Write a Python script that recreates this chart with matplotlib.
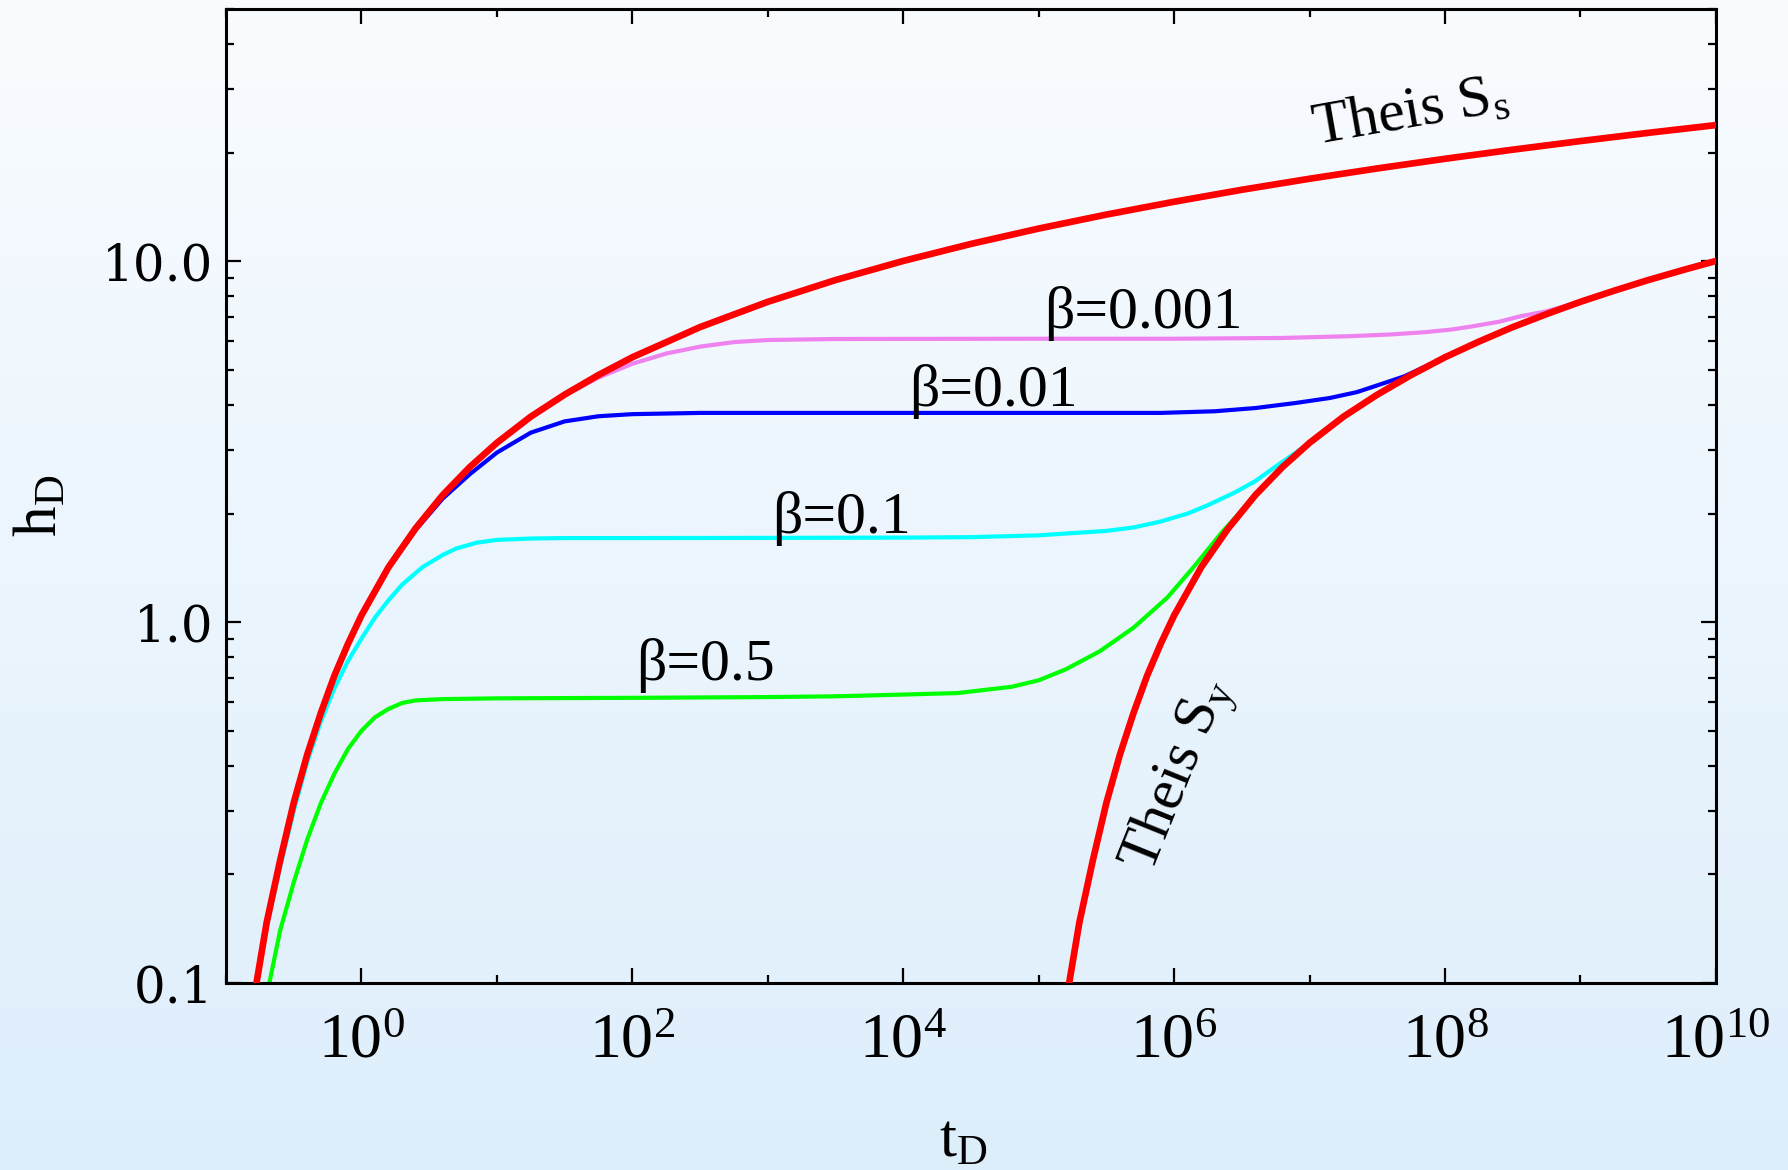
import numpy as np
import matplotlib.pyplot as plt
from matplotlib.colors import LinearSegmentedColormap
from matplotlib.ticker import FixedLocator, FixedFormatter, LogLocator, NullFormatter

plt.rcParams['font.family'] = ['Liberation Serif', 'DejaVu Serif']
plt.rcParams['mathtext.fontset'] = 'custom'
plt.rcParams['mathtext.rm'] = 'Liberation Serif'
plt.rcParams['mathtext.it'] = 'Liberation Serif:italic'

# values, x given as log10(tD)
theis_ss_logt = [-0.8, -0.7, -0.6, -0.5, -0.4, -0.3, -0.2, -0.1, 0.0, 0.2, 0.4, 0.6, 0.8,
                 1.0, 1.25, 1.5, 1.75, 2.0, 2.5, 3.0, 3.5, 4.0, 4.5, 5.0, 5.5, 6.0, 6.5,
                 7.0, 7.5, 8.0, 8.5, 9.0, 9.5, 10.0]
theis_ss_h = [0.088, 0.147, 0.219, 0.316, 0.43, 0.56, 0.71, 0.87, 1.044, 1.42, 1.82, 2.25, 2.69,
              3.14, 3.71, 4.27, 4.84, 5.42, 6.57, 7.72, 8.87, 10.02, 11.17, 12.32, 13.47, 14.62, 15.78,
              16.93, 18.08, 19.23, 20.38, 21.53, 22.69, 23.84]

theis_sy_logt = [5.2, 5.3, 5.4, 5.5, 5.6, 5.7, 5.8, 5.9, 6.0, 6.2, 6.4, 6.6, 6.8,
                 7.0, 7.25, 7.5, 7.75, 8.0, 8.25, 8.5, 8.75, 9.0, 9.25, 9.5, 9.75, 10.0]
theis_sy_h = [0.088, 0.147, 0.219, 0.316, 0.43, 0.56, 0.71, 0.87, 1.044, 1.42, 1.82, 2.25, 2.69,
              3.14, 3.71, 4.27, 4.84, 5.42, 5.99, 6.57, 7.14, 7.72, 8.29, 8.87, 9.44, 10.02]

b0001_logt = [-0.8, -0.7, -0.6, -0.5, -0.4, -0.3, -0.2, -0.1, 0.0, 0.2, 0.4, 0.6, 0.8, 1.0, 1.25,
              1.5, 1.75, 2.0, 2.25, 2.5, 2.75, 3.0, 3.5, 5.0, 6.0, 6.8, 7.3, 7.6, 7.85, 8.05, 8.2,
              8.4, 8.55, 8.75, 9.0]
b0001_h = [0.088, 0.147, 0.219, 0.316, 0.43, 0.56, 0.71, 0.87, 1.044, 1.42, 1.82, 2.25, 2.69, 3.14, 3.7,
           4.25, 4.76, 5.2, 5.55, 5.8, 5.97, 6.05, 6.09, 6.1, 6.1, 6.13, 6.2, 6.27, 6.36, 6.47, 6.6,
           6.8, 7.03, 7.27, 7.72]

b001_logt = [-0.8, -0.7, -0.6, -0.5, -0.4, -0.3, -0.2, -0.1, 0.0, 0.2, 0.4, 0.6, 0.8, 1.0, 1.25,
             1.5, 1.75, 2.0, 2.5, 4.0, 5.0, 5.9, 6.3, 6.6, 6.9, 7.15, 7.35, 7.5, 7.7, 7.85, 8.0]
b001_h = [0.088, 0.147, 0.219, 0.316, 0.43, 0.56, 0.71, 0.87, 1.04, 1.41, 1.8, 2.2, 2.57, 2.95, 3.35,
          3.6, 3.72, 3.77, 3.8, 3.8, 3.8, 3.8, 3.84, 3.92, 4.05, 4.18, 4.34, 4.53, 4.8, 5.1, 5.4]

b01_logt = [-0.77, -0.7, -0.6, -0.5, -0.4, -0.3, -0.2, -0.1, 0.0, 0.1, 0.2, 0.3, 0.45, 0.6, 0.7,
            0.85, 1.0, 1.25, 1.5, 2.0, 3.0, 4.0, 4.5, 5.0, 5.2, 5.5, 5.7, 5.9, 6.1, 6.25, 6.45,
            6.6, 6.75, 6.92, 7.0]
b01_h = [0.1, 0.143, 0.21, 0.3, 0.41, 0.53, 0.655, 0.78, 0.9, 1.03, 1.15, 1.27, 1.42, 1.535, 1.6,
         1.66, 1.69, 1.705, 1.71, 1.71, 1.712, 1.715, 1.72, 1.74, 1.76, 1.79, 1.83, 1.9, 2.0, 2.11, 2.29,
         2.46, 2.7, 2.99, 3.14]

b05_logt = [-0.68, -0.6, -0.5, -0.4, -0.3, -0.2, -0.1, 0.0, 0.1, 0.2, 0.3, 0.4, 0.6, 1.0, 2.0,
            3.0, 3.5, 4.0, 4.4, 4.8, 5.0, 5.2, 5.45, 5.7, 5.95, 6.15, 6.35, 6.5, 6.6]
b05_h = [0.1, 0.14, 0.19, 0.25, 0.315, 0.38, 0.445, 0.5, 0.545, 0.575, 0.597, 0.607, 0.612, 0.615, 0.617,
         0.62, 0.623, 0.63, 0.636, 0.662, 0.69, 0.74, 0.83, 0.965, 1.17, 1.43, 1.77, 2.04, 2.25]

x_major = [1e0, 1e2, 1e4, 1e6, 1e8, 1e10]
x_major_labels = [r'$10^{0}$', r'$10^{2}$', r'$10^{4}$', r'$10^{6}$', r'$10^{8}$', r'$10^{10}$']
x_minor = [1e-1, 1e1, 1e3, 1e5, 1e7, 1e9]
y_major = [0.1, 1.0, 10.0]
y_major_labels = ['0.1', '1.0', '10.0']

fig = plt.figure(figsize=(17.88, 11.70), dpi=100)

bg = fig.add_axes([0, 0, 1, 1], zorder=-10)
grad = np.linspace(0, 1, 256).reshape(-1, 1)
cmap = LinearSegmentedColormap.from_list('bg', ['#f9fcff', '#ddeefb'])
bg.imshow(grad, aspect='auto', cmap=cmap, extent=[0, 1, 0, 1], origin='upper')
bg.axis('off')

ax = fig.add_axes([0.1264, 0.1598, 0.8333, 0.8325])
ax.patch.set_alpha(0)

def tt(logt):
    return 10.0 ** np.array(logt)

ax.plot(tt(b05_logt), b05_h, color='#00ff00', lw=3.0, zorder=2)
ax.plot(tt(b01_logt), b01_h, color='#00ffff', lw=3.0, zorder=2)
ax.plot(tt(b001_logt), b001_h, color='#0000ff', lw=3.0, zorder=2)
ax.plot(tt(b0001_logt), b0001_h, color='#ee82ee', lw=3.0, zorder=2)
ax.plot(tt(theis_ss_logt), theis_ss_h, color='#ff0000', lw=4.8, zorder=3)
ax.plot(tt(theis_sy_logt), theis_sy_h, color='#ff0000', lw=4.8, zorder=3)

ax.set_xscale('log')
ax.set_yscale('log')
ax.set_xlim(1e-1, 1e10)
ax.set_ylim(0.1, 50)

ax.xaxis.set_major_locator(FixedLocator(x_major))
ax.xaxis.set_major_formatter(FixedFormatter(x_major_labels))
ax.xaxis.set_minor_locator(FixedLocator(x_minor))
ax.xaxis.set_minor_formatter(NullFormatter())
ax.yaxis.set_major_locator(FixedLocator(y_major))
ax.yaxis.set_major_formatter(FixedFormatter(y_major_labels))
ax.yaxis.set_minor_locator(LogLocator(base=10, subs=np.arange(2, 10)))
ax.yaxis.set_minor_formatter(NullFormatter())

ax.tick_params(which='both', direction='in', top=True, right=True, color='black', width=1.6)
ax.tick_params(which='major', length=11)
ax.tick_params(which='minor', length=6)
ax.tick_params(axis='x', which='major', labelsize=46, pad=22)
ax.tick_params(axis='y', which='major', labelsize=36, pad=9)
for lab in ax.get_yticklabels():
    lab.set_family('DejaVu Serif')
for s in ax.spines.values():
    s.set_linewidth(2.2)
    s.set_color('black')

ax.set_xlabel(r'$\mathrm{t_D}$', fontsize=44)
ax.set_ylabel(r'$\mathrm{h_D}$', fontsize=44)
ax.xaxis.set_label_coords(0.495, -0.135)
ax.yaxis.set_label_coords(-0.105, 0.49)

lbl = dict(fontsize=43, color='black', ha='left', va='baseline', zorder=5)
ax.text(10 ** 5.04, 6.53, 'β=0.001', **lbl)
ax.text(10 ** 4.04, 3.97, 'β=0.01', **lbl)
ax.text(10 ** 3.03, 1.77, 'β=0.1', **lbl)
ax.text(10 ** 2.03, 0.69, 'β=0.5', **lbl)
ax.text(10 ** 7.04, 21.1, r'Theis S$_\mathrm{s}$', rotation=10, rotation_mode='anchor', **lbl)
ax.text(10 ** 5.84, 0.2, r'Theis S$_\mathrm{y}$', rotation=68, rotation_mode='anchor', **lbl)

fig.savefig('out.png', dpi=100)
